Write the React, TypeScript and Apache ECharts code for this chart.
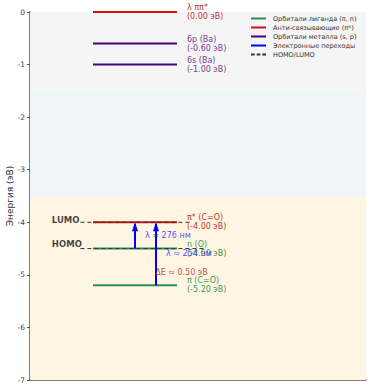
import React, { useEffect, useRef } from "react";
import * as echarts from "echarts";

const levelNames = ["λ ππ*", "6p (Ba)", "6s (Ba)", "π* (C=O)", "n (O)", "π (C=O)"];
const levelEnergies = [0.0, -0.6, -1.0, -4.0, -4.5, -5.2];
const levelGroups = ["anti", "metal", "metal", "anti", "ligand", "ligand"];

const legendNames = [
  "Орбитали лиганда (π, n)",
  "Анти-связывающие (π*)",
  "Орбитали металла (s, p)",
  "Электронные переходы",
  "HOMO/LUMO",
];

const transFrom = [-4.5, -5.2];
const transTo = [-4.0, -4.0];
const transLabels = ["λ ≈ 276 нм", "λ ≈ 254 нм"];
const gapLabel = "ΔE ≈ 0.50 эВ";
const homoLumoNames = ["LUMO", "HOMO"];
const homoLumoEnergies = [-4.0, -4.5];
const yAxisTitle = "Энергия (эВ)";

const bandEdges = [0, -1.5, -3.5, -7];

const FONT = "DejaVu Sans";
const groupInfo: Record<string, { name: string; line: string; text: string }> = {
  ligand: { name: legendNames[0], line: "#2e8b57", text: "#3c9a5f" },
  anti: { name: legendNames[1], line: "#cc1111", text: "#c0392b" },
  metal: { name: legendNames[2], line: "#4b0082", text: "#7d3c98" },
};
const bandColors = ["#f5f5f5", "#eef6f9", "#fff5e3"];

export default function App() {
  const ref = useRef<HTMLDivElement>(null);
  useEffect(() => {
    document.body.style.margin = "0";
    const chart = echarts.init(ref.current!, null, { renderer: "svg" });
    const LX0 = 0.75;
    const LX1 = 1.75;
    const series: any[] = [];

    levelEnergies.forEach((e, i) => {
      const g = groupInfo[levelGroups[i]];
      series.push({
        type: "line",
        name: g.name,
        symbol: "none",
        data: [
          [LX0, e],
          [LX1, e],
        ],
        lineStyle: { color: g.line, width: 2 },
        itemStyle: { color: g.line },
        endLabel: {
          show: true,
          distance: 10,
          formatter: () => `${levelNames[i]}\n(${e.toFixed(2)} эВ)`,
          color: g.text,
          fontFamily: FONT,
          fontSize: 8,
          lineHeight: 9,
          align: "left",
        },
        markArea:
          i === 0
            ? {
                silent: true,
                data: bandColors.map((c, k) => [
                  { yAxis: bandEdges[k], itemStyle: { color: c } },
                  { yAxis: bandEdges[k + 1] },
                ]),
              }
            : undefined,
        z: 3,
      });
    });

    // HOMO/LUMO dashed
    const dashEnds = [1.9, 2.1];
    const dashData: any[] = [];
    homoLumoEnergies.forEach((e, i) => {
      if (i > 0) dashData.push(["-", "-"]);
      dashData.push([0.6, e], [dashEnds[i], e]);
    });
    series.push({
      type: "line",
      name: legendNames[4],
      symbol: "none",
      data: dashData,
      connectNulls: false,
      lineStyle: { color: "#333", width: 1, type: [4, 3] },
      itemStyle: { color: "#333" },
      z: 4,
    });

    // transitions
    const transX = [1.25, 1.5];
    transFrom.forEach((f, i) => {
      series.push({
        type: "line",
        name: legendNames[3],
        symbol: "none",
        data: [
          { value: [transX[i], f] },
          {
            value: [transX[i], transTo[i] - 0.03],
            symbol: "triangle",
            symbolSize: [6, 9],
            symbolOffset: [0, 3],
          },
        ],
        lineStyle: { color: "#0000ff", width: 2 },
        itemStyle: { color: "#0000ff" },
        z: 5,
      });
    });

    // annotations
    const annPos = [
      [1.37, -4.26],
      [1.62, -4.6],
    ];
    const annData: any[] = transLabels.map((t, i) => ({
      value: annPos[i],
      label: { formatter: t, color: "#1a1aff" },
    }));
    annData.push({ value: [1.49, -4.96], label: { formatter: gapLabel, color: "#b22222" } });
    homoLumoNames.forEach((n, i) => {
      annData.push({
        value: [0.26, homoLumoEnergies[i] + (i === 0 ? 0.05 : 0.08)],
        label: { formatter: n, color: "#111", fontWeight: "bold", fontSize: 8.5 },
      });
    });
    series.push({
      type: "scatter",
      symbolSize: 0,
      silent: true,
      data: annData,
      label: {
        show: true,
        position: "right",
        distance: 0,
        fontFamily: FONT,
        fontSize: 8,
        align: "left",
        verticalAlign: "middle",
      },
      z: 6,
    });

    const lineIcon = "path://M0,0H16V2H0Z";
    const dashIcon = "path://M0,0H4V2H0Z M6,0H10V2H6Z M12,0H16V2H12Z";
    const legendColors = [groupInfo.ligand.line, groupInfo.anti.line, groupInfo.metal.line, "#0000ff", "#333"];

    chart.setOption({
      animation: false,
      textStyle: { fontFamily: FONT },
      grid: { left: 30, right: 6, top: 12, bottom: 10, containLabel: false, outerBoundsMode: "none" },
      legend: {
        data: legendNames.map((n, i) => ({
          name: n,
          icon: i === 4 ? dashIcon : lineIcon,
          itemStyle: { color: legendColors[i] },
        })),
        orient: "vertical",
        left: 251,
        top: 15,
        itemWidth: 15,
        itemHeight: 2,
        itemGap: 2,
        symbolKeepAspect: false,
        padding: 0,
        textStyle: { fontFamily: FONT, fontSize: 6.5, color: "#333", padding: [1, 0, 1, 2] },
      },
      graphic: [
        {
          type: "text",
          x: 10,
          y: 196,
          rotation: Math.PI / 2,
          style: {
            text: yAxisTitle,
            fontFamily: FONT,
            fontSize: 9,
            fill: "#333",
            align: "center",
            verticalAlign: "middle",
          },
        },
      ],
      xAxis: {
        type: "value",
        min: 0,
        max: 4,
        axisLine: { show: true, onZero: false, lineStyle: { color: "#555", width: 1.5 } },
        axisTick: { show: false },
        axisLabel: { show: false },
        splitLine: { show: false },
      },
      yAxis: {
        type: "value",
        min: -7,
        max: 0,
        interval: 1,
        axisLine: { show: true, onZero: false, lineStyle: { color: "#555", width: 1.5 } },
        axisTick: { show: true, length: 3, lineStyle: { color: "#555" } },
        axisLabel: { fontFamily: FONT, fontSize: 7.5, color: "#444", margin: 5 },
        splitLine: { show: true, lineStyle: { color: "#cccccc", type: [2, 2], width: 0.8 } },
      },
      series,
    });
    return () => chart.dispose();
  }, []);
  return <div ref={ref} style={{ width: 372, height: 390 }} />;
}
